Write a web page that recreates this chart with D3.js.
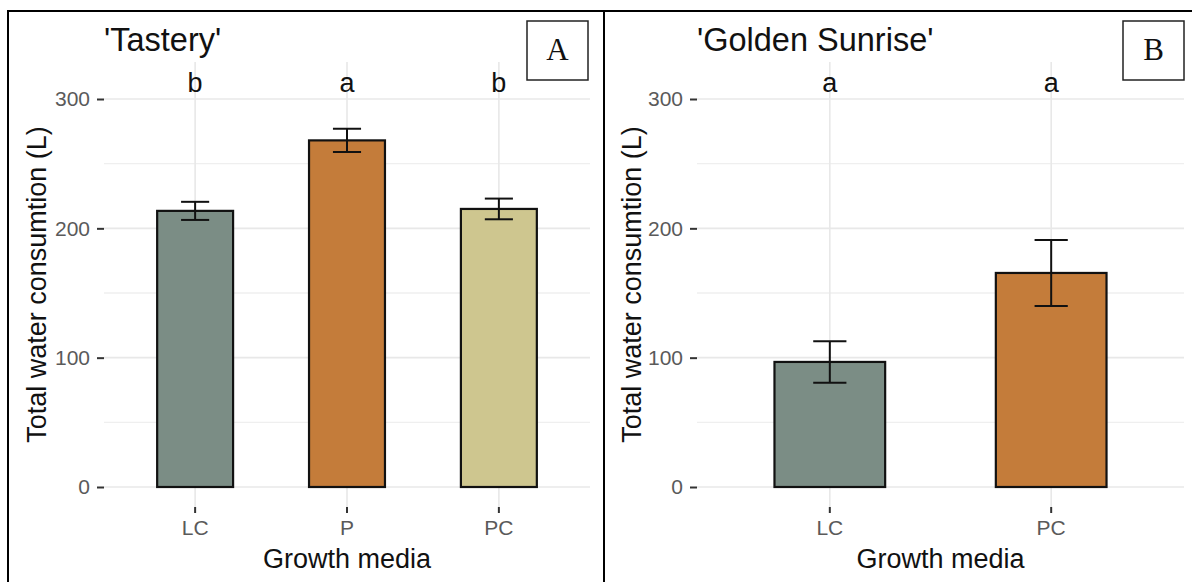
<!DOCTYPE html>
<html>
<head>
<meta charset="utf-8">
<script src="https://cdn.jsdelivr.net/npm/d3@7"></script>
<style>
  body { margin: 0; background: #fff; }
  svg { display: block; font-family: "Liberation Sans", Arial, Helvetica, sans-serif; }
</style>
</head>
<body>
<div id="chart"></div>
<script>
// panel A: 'Tastery'
var catsA = ["LC", "P", "PC"];
var meansA = [213.5, 268, 215];
var seA = [7, 9, 8];
var lettersA = ["b", "a", "b"];

// panel B: 'Golden Sunrise'
var catsB = ["LC", "PC"];
var meansB = [96.7, 165.5];
var seB = [16, 25.5];
var lettersB = ["a", "a"];

var yTicks = [0, 100, 200, 300];
var yMinor = [50, 150, 250];
var letterY = 313;   // height of the significance letters

var fillA = { LC: "#7b8d85", P: "#c47c3a", PC: "#cec68f" };
var fillB = { LC: "#7b8d85", PC: "#c47c3a" };

var width = 1192;
var height = 582;

var svg = d3.select("#chart").append("svg")
  .attr("width", width)
  .attr("height", height);

svg.append("rect")
  .attr("width", width)
  .attr("height", height)
  .attr("fill", "#fff");

var panelTop = 62;
var panelBottom = 507;

var y = d3.scaleLinear()
  .domain([0, 300])
  .range([487, 99]);

function drawPanel(opt) {
  var g = svg.append("g");

  var x = d3.scaleBand()
    .domain(opt.cats)
    .range([opt.left, opt.right])
    .paddingInner(0.5)
    .paddingOuter(0.35);

  var bw = x.bandwidth();
  var cx = function (c) { return x(c) + bw / 2; };

  // grid
  g.append("g").selectAll("line")
    .data(yMinor)
    .enter().append("line")
    .attr("x1", opt.left).attr("x2", opt.right)
    .attr("y1", function (d) { return y(d); })
    .attr("y2", function (d) { return y(d); })
    .attr("stroke", "#efefef")
    .attr("stroke-width", 1.3);

  g.append("g").selectAll("line")
    .data(yTicks)
    .enter().append("line")
    .attr("x1", opt.left).attr("x2", opt.right)
    .attr("y1", function (d) { return y(d); })
    .attr("y2", function (d) { return y(d); })
    .attr("stroke", "#e8e8e8")
    .attr("stroke-width", 1.6);

  g.append("g").selectAll("line")
    .data(opt.cats)
    .enter().append("line")
    .attr("x1", cx).attr("x2", cx)
    .attr("y1", panelTop).attr("y2", panelBottom)
    .attr("stroke", "#e8e8e8")
    .attr("stroke-width", 1.6);

  // bars
  g.append("g").selectAll("rect")
    .data(opt.cats)
    .enter().append("rect")
    .attr("x", function (c) { return x(c); })
    .attr("width", bw)
    .attr("y", function (c, i) { return y(opt.means[i]); })
    .attr("height", function (c, i) { return y(0) - y(opt.means[i]); })
    .attr("fill", function (c) { return opt.fill[c]; })
    .attr("stroke", "#111")
    .attr("stroke-width", 2.2);

  // error bars
  var cap = bw * opt.cap / 2;
  var eb = g.append("g").selectAll("g")
    .data(opt.cats)
    .enter().append("g")
    .attr("stroke", "#111")
    .attr("stroke-width", 2);

  eb.append("line")
    .attr("x1", cx).attr("x2", cx)
    .attr("y1", function (c, i) { return y(opt.means[i] + opt.se[i]); })
    .attr("y2", function (c, i) { return y(opt.means[i] - opt.se[i]); });
  eb.append("line")
    .attr("x1", function (c) { return cx(c) - cap; })
    .attr("x2", function (c) { return cx(c) + cap; })
    .attr("y1", function (c, i) { return y(opt.means[i] + opt.se[i]); })
    .attr("y2", function (c, i) { return y(opt.means[i] + opt.se[i]); });
  eb.append("line")
    .attr("x1", function (c) { return cx(c) - cap; })
    .attr("x2", function (c) { return cx(c) + cap; })
    .attr("y1", function (c, i) { return y(opt.means[i] - opt.se[i]); })
    .attr("y2", function (c, i) { return y(opt.means[i] - opt.se[i]); });

  // letters
  g.append("g").selectAll("text")
    .data(opt.cats)
    .enter().append("text")
    .attr("x", cx)
    .attr("y", y(letterY))
    .attr("dy", "0.35em")
    .attr("text-anchor", "middle")
    .attr("font-size", 27)
    .attr("fill", "#111")
    .text(function (c, i) { return opt.letters[i]; });

  // axes
  var yAxis = g.append("g")
    .attr("transform", "translate(" + opt.left + ",0)")
    .call(d3.axisLeft(y).tickValues(yTicks).tickSize(7).tickPadding(7));
  var xAxis = g.append("g")
    .attr("transform", "translate(0," + panelBottom + ")")
    .call(d3.axisBottom(x).tickSize(6).tickPadding(7));

  [yAxis, xAxis].forEach(function (a) {
    a.select(".domain").remove();
    a.selectAll(".tick line").attr("stroke", "#333").attr("stroke-width", 2);
    a.selectAll(".tick text")
      .attr("fill", "#5a5a5a")
      .attr("font-size", 21)
      .attr("font-family", "Liberation Sans, Arial, sans-serif");
  });
  xAxis.selectAll(".tick line").attr("y1", 0);

  // titles
  g.append("text")
    .attr("x", opt.left)
    .attr("y", 51)
    .attr("font-size", 32.5)
    .attr("fill", "#111")
    .text(opt.title);

  g.append("text")
    .attr("x", (opt.left + opt.right) / 2)
    .attr("y", 568)
    .attr("text-anchor", "middle")
    .attr("font-size", 27)
    .attr("fill", "#111")
    .text("Growth media");

  g.append("text")
    .attr("transform", "translate(" + opt.ylab + "," + (panelTop + panelBottom) / 2 + ") rotate(-90)")
    .attr("text-anchor", "middle")
    .attr("font-size", 27)
    .attr("fill", "#111")
    .text("Total water consumtion (L)");

  // panel letter box
  g.append("rect")
    .attr("x", opt.box).attr("y", 21)
    .attr("width", 61).attr("height", 59)
    .attr("fill", "#fff")
    .attr("stroke", "#222")
    .attr("stroke-width", 1.5);
  g.append("text")
    .attr("x", opt.box + 30.5)
    .attr("y", 60)
    .attr("text-anchor", "middle")
    .attr("font-family", "Liberation Serif, Times New Roman, serif")
    .attr("font-size", 31)
    .attr("fill", "#111")
    .text(opt.tag);
}

drawPanel({
  cats: catsA, means: meansA, se: seA, letters: lettersA, fill: fillA,
  left: 104, right: 590, cap: 0.37, title: "'Tastery'", tag: "A", box: 527, ylab: 46
});

drawPanel({
  cats: catsB, means: meansB, se: seB, letters: lettersB, fill: fillB,
  left: 697, right: 1184, cap: 0.3, title: "'Golden Sunrise'", tag: "B", box: 1123, ylab: 641
});

// outer frame
svg.append("rect")
  .attr("x", 8).attr("y", 11)
  .attr("width", width)
  .attr("height", height)
  .attr("fill", "none")
  .attr("stroke", "#000")
  .attr("stroke-width", 2);

svg.append("line")
  .attr("x1", 604).attr("x2", 604)
  .attr("y1", 11).attr("y2", height)
  .attr("stroke", "#000")
  .attr("stroke-width", 2);
</script>
</body>
</html>
